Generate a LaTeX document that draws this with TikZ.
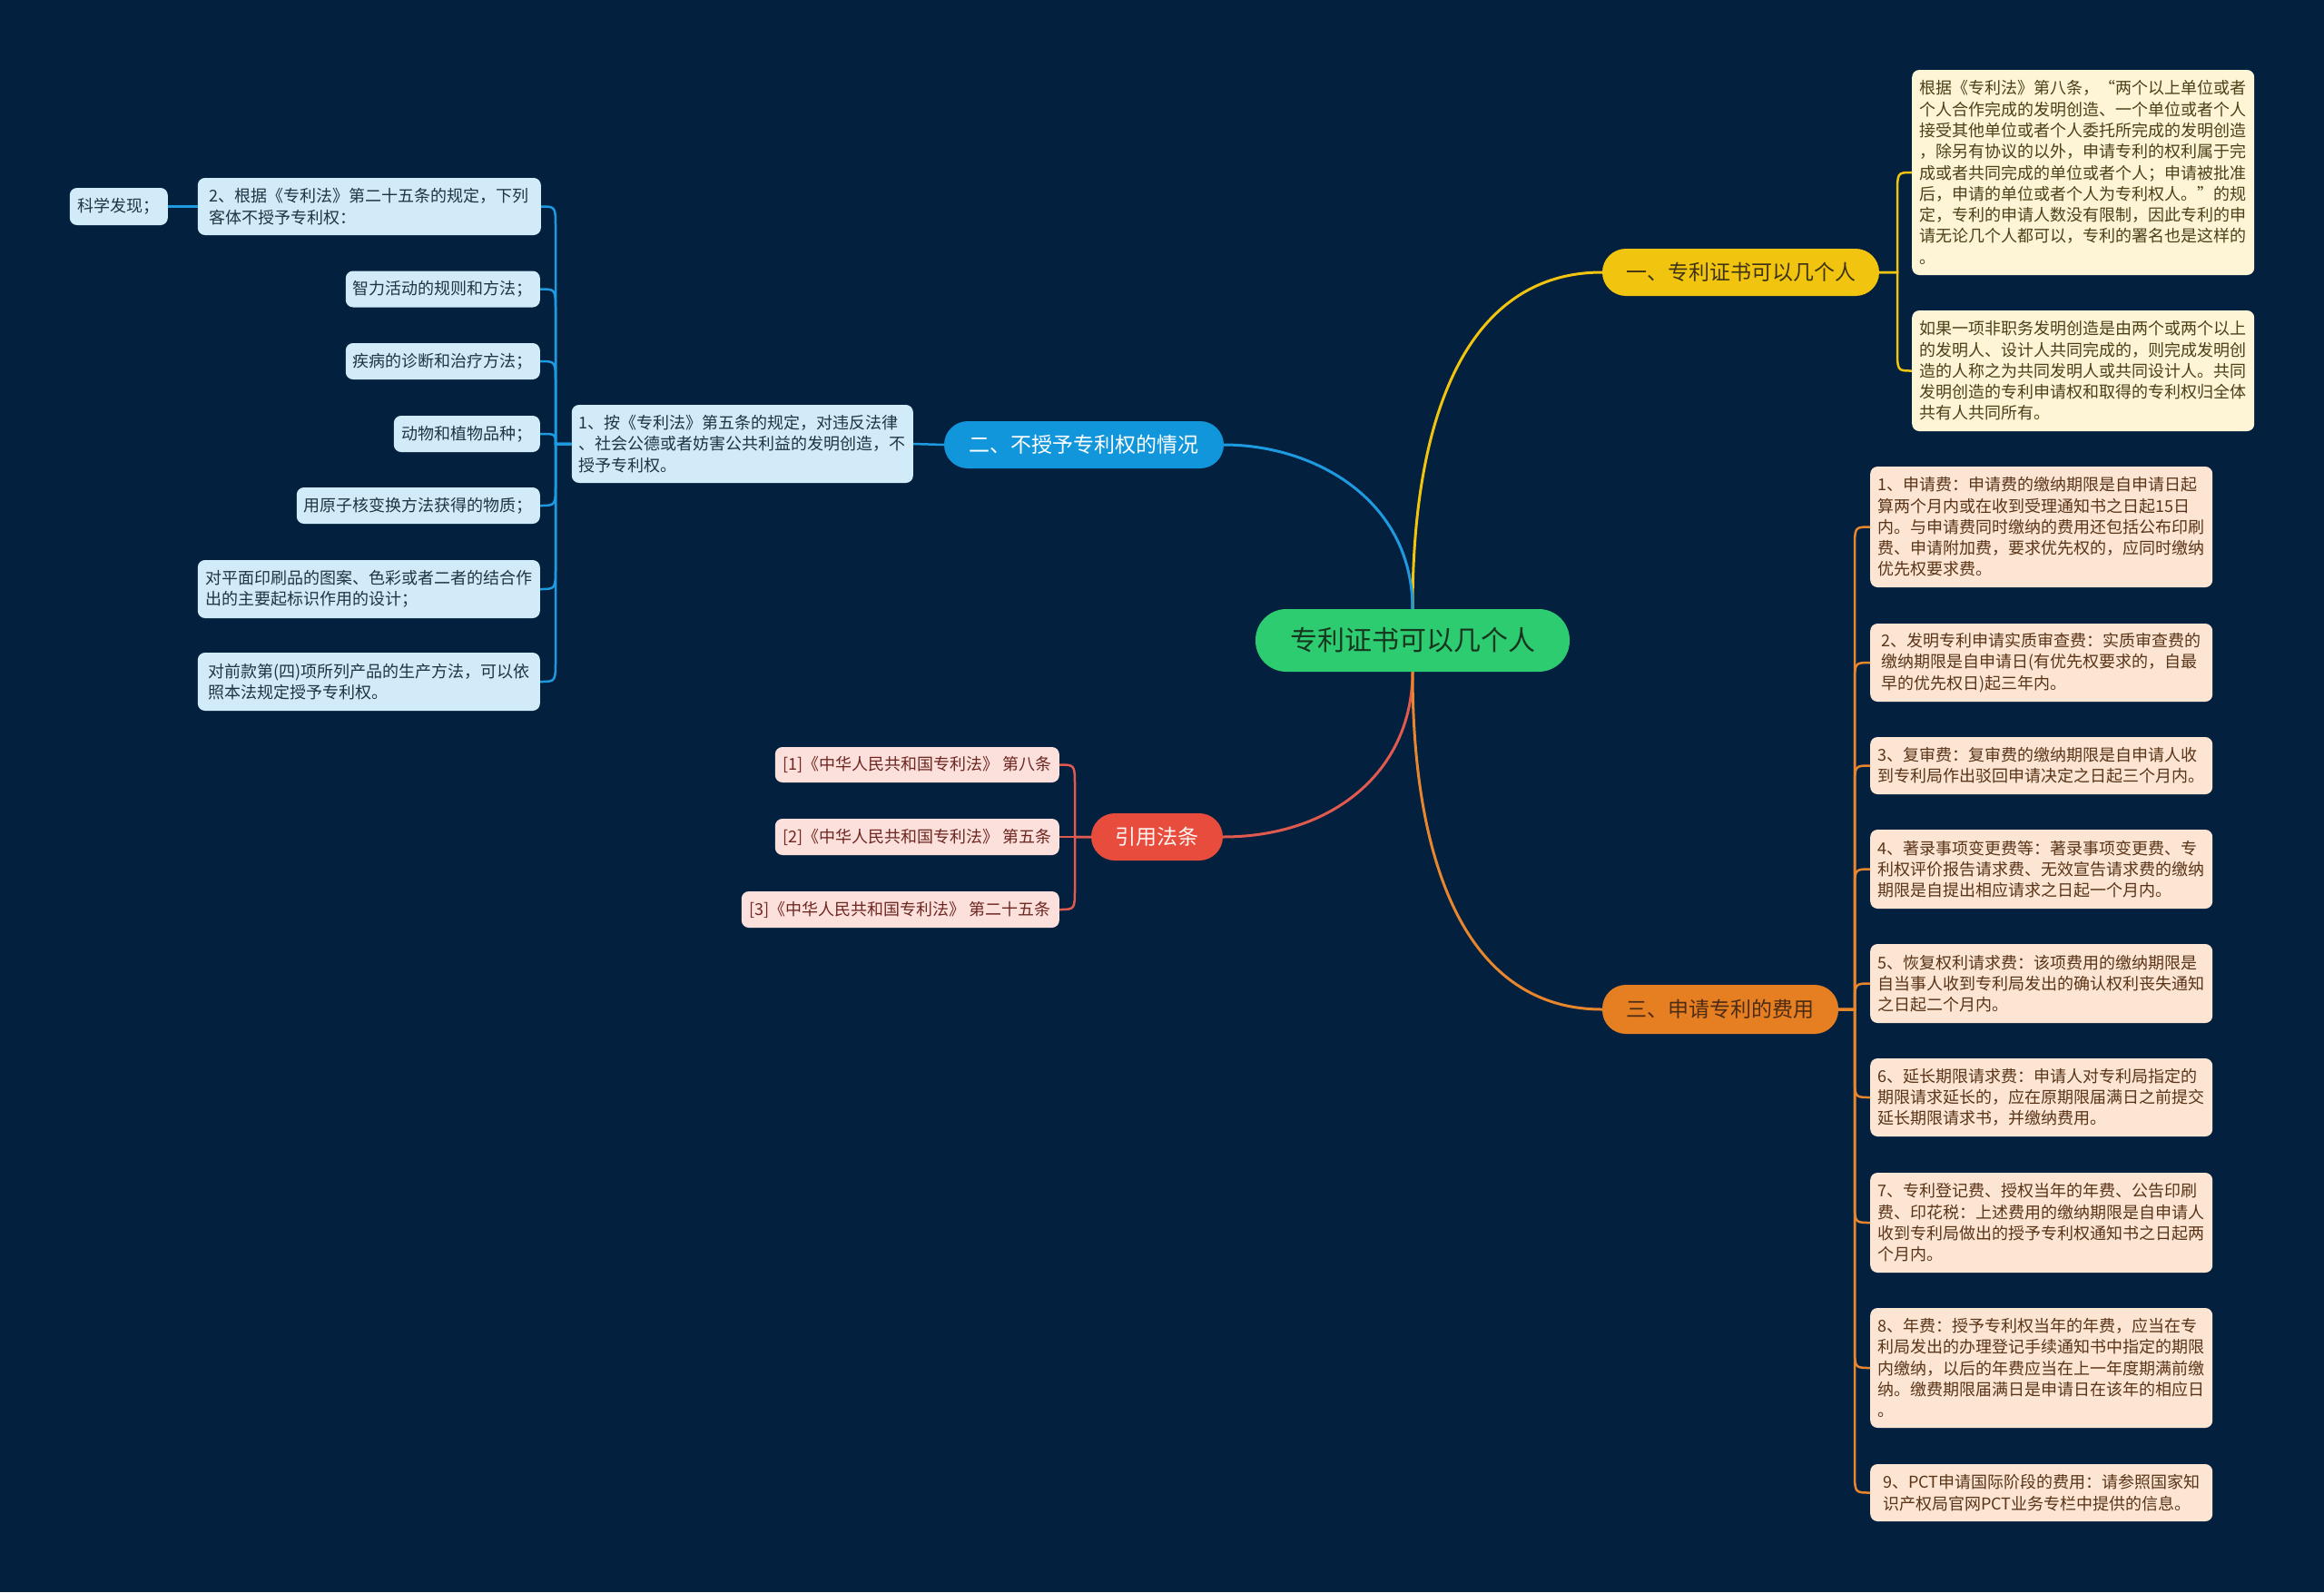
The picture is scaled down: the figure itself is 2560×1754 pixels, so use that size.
\documentclass[tikz,border=0pt]{standalone}
\usepackage{fontspec}
\setmainfont{Noto Sans CJK SC}
\usetikzlibrary{calc}
\definecolor{bg}{HTML}{03203F}
\definecolor{rootfill}{HTML}{2ECC71}
\definecolor{roottext}{HTML}{17361F}
\definecolor{ylw}{HTML}{F1C40F}
\definecolor{ylwleaf}{HTML}{FDF5D5}
\definecolor{ylwtext}{HTML}{4D4019}
\definecolor{blu}{HTML}{1296DB}
\definecolor{bluline}{HTML}{1E9AE0}
\definecolor{bluleaf}{HTML}{D1ECF8}
\definecolor{blutext}{HTML}{1F3444}
\definecolor{rd}{HTML}{E74C3C}
\definecolor{rdline}{HTML}{E05A4F}
\definecolor{rdleaf}{HTML}{FCE0DC}
\definecolor{rdtext}{HTML}{6E2620}
\definecolor{org}{HTML}{E67E22}
\definecolor{orgline}{HTML}{E8862E}
\definecolor{orgleaf}{HTML}{FCE6D3}
\definecolor{orgtext}{HTML}{5A3418}
\newcommand\linkR[4]{\draw[#1] let \p1=(#2.east), \p2=(#4.west), \n1={sign(\y2-\y1)}, \n2={min(24,abs(\y2-\y1))} in (\p1) -- (#3pt,\y1) -- (#3pt,{\y2-\n1*\n2}) .. controls (#3pt,\y2) .. (\p2);}
\newcommand\linkL[4]{\draw[#1] let \p1=(#2.west), \p2=(#4.east), \n1={sign(\y2-\y1)}, \n2={min(24,abs(\y2-\y1))} in (\p1) -- (#3pt,\y1) -- (#3pt,{\y2-\n1*\n2}) .. controls (#3pt,\y2) .. (\p2);}
\begin{document}
\begin{tikzpicture}[x=1pt,y=1pt,
  leaf/.style={rounded corners=8pt, inner xsep=8pt, inner ysep=0pt, align=left, font=\fontsize{18pt}{23.3pt}\selectfont},
  yleaf/.style={leaf, fill=ylwleaf, text=ylwtext, minimum width=377pt, anchor=west},
  oleaf/.style={leaf, fill=orgleaf, text=orgtext, minimum width=377pt, anchor=west},
  bleaf/.style={leaf, fill=bluleaf, text=blutext, anchor=east, minimum height=40pt},
  rleaf/.style={leaf, fill=rdleaf, text=rdtext, anchor=east, minimum height=40pt},
  branch/.style={rounded corners=26pt, minimum height=52pt, inner xsep=20pt, font=\fontsize{23pt}{28pt}\selectfont},
  yline/.style={draw=ylw, line width=2.5pt},
  bline/.style={draw=bluline, line width=2.5pt},
  rline/.style={draw=rdline, line width=2.5pt},
  oline/.style={draw=orgline, line width=2.5pt},
  mainline/.style={line width=3pt}
]
\fill[bg] (0,0) rectangle (2560,-1754);
\useasboundingbox (0,0) rectangle (2560,-1754);

% root
\node[rounded corners=34pt, fill=rootfill, text=roottext, minimum width=346pt, minimum height=69pt, font=\fontsize{30pt}{36pt}\selectfont] (root) at (1556,-705.5) {专利证书可以几个人};

% branches
\node[branch, fill=ylw, text=ylwtext!80!black, minimum width=305pt] (ybr) at (1917.5,-300) {一、专利证书可以几个人};
\node[branch, fill=blu, text=white, minimum width=308pt] (bbr) at (1194,-490) {二、不授予专利权的情况};
\node[branch, fill=rd, text=white!95!rd, minimum width=145pt] (rbr) at (1274.5,-922) {引用法条};
\node[branch, fill=org, text=orgtext!85!black, minimum width=260pt, minimum height=54pt] (obr) at (1895,-1112) {三、申请专利的费用};

% yellow leaves
\node[yleaf, minimum height=226pt] (y1) at (2106,-190) {根据《专利法》第八条，“两个以上单位或者\\个人合作完成的发明创造、一个单位或者个人\\接受其他单位或者个人委托所完成的发明创造\\，除另有协议的以外，申请专利的权利属于完\\成或者共同完成的单位或者个人；申请被批准\\后，申请的单位或者个人为专利权人。”的规\\定，专利的申请人数没有限制，因此专利的申\\请无论几个人都可以，专利的署名也是这样的\\。};
\node[yleaf, minimum height=133pt] (y2) at (2106,-408.5) {如果一项非职务发明创造是由两个或两个以上\\的发明人、设计人共同完成的，则完成发明创\\造的人称之为共同发明人或共同设计人。共同\\发明创造的专利申请权和取得的专利权归全体\\共有人共同所有。};

% orange leaves
\node[oleaf, minimum height=133pt] (o1) at (2060,-580.5) {1、申请费：申请费的缴纳期限是自申请日起\\算两个月内或在收到受理通知书之日起15日\\内。与申请费同时缴纳的费用还包括公布印刷\\费、申请附加费，要求优先权的，应同时缴纳\\优先权要求费。};
\node[oleaf, minimum height=86pt] (o2) at (2060,-730) {2、发明专利申请实质审查费：实质审查费的\\缴纳期限是自申请日(有优先权要求的，自最\\早的优先权日)起三年内。};
\node[oleaf, minimum height=63pt] (o3) at (2060,-843.5) {3、复审费：复审费的缴纳期限是自申请人收\\到专利局作出驳回申请决定之日起三个月内。};
\node[oleaf, minimum height=87pt] (o4) at (2060,-957.5) {4、著录事项变更费等：著录事项变更费、专\\利权评价报告请求费、无效宣告请求费的缴纳\\期限是自提出相应请求之日起一个月内。};
\node[oleaf, minimum height=87pt] (o5) at (2060,-1083.5) {5、恢复权利请求费：该项费用的缴纳期限是\\自当事人收到专利局发出的确认权利丧失通知\\之日起二个月内。};
\node[oleaf, minimum height=86pt] (o6) at (2060,-1209) {6、延长期限请求费：申请人对专利局指定的\\期限请求延长的，应在原期限届满日之前提交\\延长期限请求书，并缴纳费用。};
\node[oleaf, minimum height=110pt] (o7) at (2060,-1347) {7、专利登记费、授权当年的年费、公告印刷\\费、印花税：上述费用的缴纳期限是自申请人\\收到专利局做出的授予专利权通知书之日起两\\个月内。};
\node[oleaf, minimum height=132pt] (o8) at (2060,-1507) {8、年费：授予专利权当年的年费，应当在专\\利局发出的办理登记手续通知书中指定的期限\\内缴纳，以后的年费应当在上一年度期满前缴\\纳。缴费期限届满日是申请日在该年的相应日\\。};
\node[oleaf, minimum height=63pt] (o9) at (2060,-1644.5) {9、PCT申请国际阶段的费用：请参照国家知\\识产权局官网PCT业务专栏中提供的信息。};

% blue leaves
\node[bleaf, minimum width=376pt, minimum height=86pt] (b1) at (1006,-489) {1、按《专利法》第五条的规定，对违反法律\\、社会公德或者妨害公共利益的发明创造，不\\授予专利权。};
\node[bleaf, minimum width=378pt, minimum height=63pt] (b2) at (596,-227.5) {2、根据《专利法》第二十五条的规定，下列\\客体不授予专利权：};
\node[bleaf, minimum width=108pt, minimum height=41pt] (b9) at (185,-227.5) {科学发现；};
\node[bleaf, minimum width=214pt] (b3) at (595,-318.5) {智力活动的规则和方法；};
\node[bleaf, minimum width=214pt] (b4) at (595,-398) {疾病的诊断和治疗方法；};
\node[bleaf, minimum width=161pt] (b5) at (595,-478) {动物和植物品种；};
\node[bleaf, minimum width=268pt] (b6) at (595,-557) {用原子核变换方法获得的物质；};
\node[bleaf, minimum width=377pt, minimum height=64pt] (b7) at (595,-649) {对平面印刷品的图案、色彩或者二者的结合作\\出的主要起标识作用的设计；};
\node[bleaf, minimum width=377pt, minimum height=64pt] (b8) at (595,-751) {对前款第(四)项所列产品的生产方法，可以依\\照本法规定授予专利权。};

% red leaves
\node[rleaf, minimum width=313pt, minimum height=39pt] (r1) at (1167,-842.5) {[1]《中华人民共和国专利法》 第八条};
\node[rleaf, minimum width=313pt] (r2) at (1167,-922) {[2]《中华人民共和国专利法》 第五条};
\node[rleaf, minimum width=350pt] (r3) at (1167,-1002) {[3]《中华人民共和国专利法》 第二十五条};

% main connectors
\draw[draw=ylw, mainline] (root.north) .. controls +(0,221) and +(-145,0) .. (ybr.west);
\draw[draw=bluline, mainline] (root.north) .. controls +(0,120) and +(100,0) .. (bbr.east);
\draw[draw=rdline, mainline] (root.south) .. controls +(0,-110) and +(120,0) .. (rbr.east);
\draw[draw=orgline, mainline] (root.south) .. controls +(0,-221) and +(-145,0) .. (obr.west);

% yellow
\linkR{yline}{ybr}{2090}{y1}
\linkR{yline}{ybr}{2090}{y2}
% orange
\linkR{oline}{obr}{2043}{o1}
\linkR{oline}{obr}{2043}{o2}
\linkR{oline}{obr}{2043}{o3}
\linkR{oline}{obr}{2043}{o4}
\linkR{oline}{obr}{2043}{o5}
\linkR{oline}{obr}{2043}{o6}
\linkR{oline}{obr}{2043}{o7}
\linkR{oline}{obr}{2043}{o8}
\linkR{oline}{obr}{2043}{o9}
% blue
\draw[bline] (bbr.west) -- (b1.east);
\linkL{bline}{b1}{612}{b2}
\linkL{bline}{b1}{612}{b3}
\linkL{bline}{b1}{612}{b4}
\linkL{bline}{b1}{612}{b5}
\linkL{bline}{b1}{612}{b6}
\linkL{bline}{b1}{612}{b7}
\linkL{bline}{b1}{612}{b8}
\draw[bline] (b2.west) -- (b9.east);
% red
\linkL{rline}{rbr}{1184}{r1}
\linkL{rline}{rbr}{1184}{r2}
\linkL{rline}{rbr}{1184}{r3}
\end{tikzpicture}
\end{document}
